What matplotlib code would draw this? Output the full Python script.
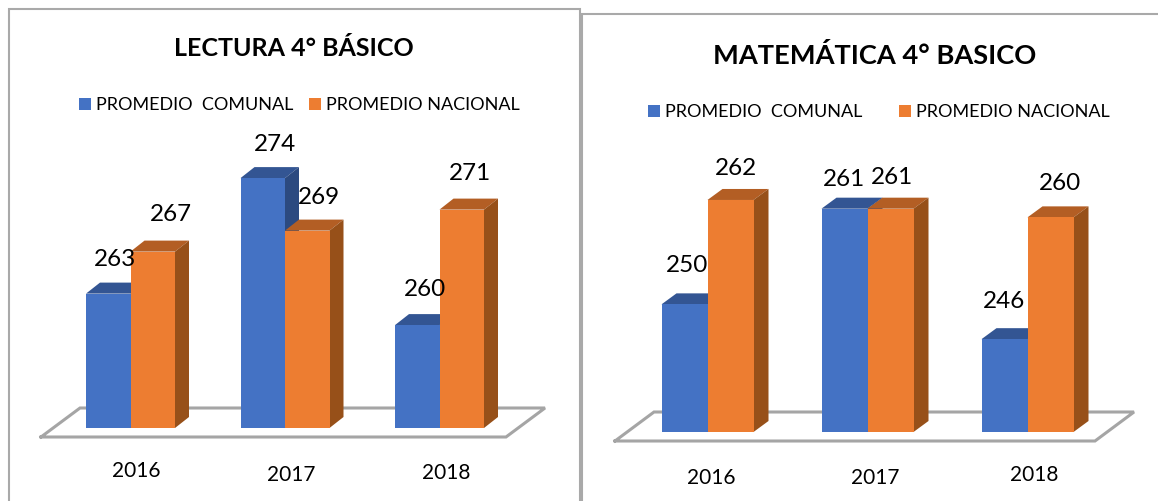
import matplotlib
matplotlib.use("Agg")
import matplotlib.pyplot as plt
from matplotlib.patches import Rectangle
from matplotlib.transforms import ScaledTranslation

plt.rcParams["font.family"] = ["Lato", "DejaVu Sans"]

years = ["2016", "2017", "2018"]
series_names = ["PROMEDIO  COMUNAL", "PROMEDIO NACIONAL"]

lectura_comunal = [263, 274, 260]
lectura_nacional = [267, 269, 271]
matematica_comunal = [250, 261, 246]
matematica_nacional = [262, 261, 260]

# front, top and side colours of the fake 3D bars
BLUE = ("#4472C4", "#335593", "#2C4A80")
ORANGE = ("#ED7D31", "#B35E24", "#975019")
FLOOR_COLOR = "#A5A5A5"
FRAME_COLOR = "#A9A9A9"

W, H = 1158, 501


def draw_bar(ax, x, value, ymin, width, dx, dy, colors):
    front, top, side = colors
    left, right = x - width / 2, x + width / 2
    ax.fill([left, left + dx, right + dx, right], [value, value + dy, value + dy, value],
            color=top, lw=0)
    ax.fill([right, right + dx, right + dx, right],
            [ymin, ymin + dy, value + dy, value], color=side, lw=0)
    return ax.bar(x, value - ymin, width, bottom=ymin, color=front, lw=0)


def draw_panel(frame, comunal, nacional, title, cfg):
    x0, y0, x1, y1 = frame
    ax = fig.add_axes([x0 / W, 1 - y1 / H, (x1 - x0) / W, (y1 - y0) / H])
    ax.patch.set_alpha(0)

    # pixel geometry turned into data units, so bars still go through the scales
    c0, spacing, px_per_unit = cfg["first_center"], cfg["spacing"], cfg["px_per_unit"]
    ymin = cfg["ymin"]
    base = cfg["baseline"]
    ax.set_xlim((x0 - c0) / spacing, (x1 - c0) / spacing)
    ax.set_ylim(ymin - (y1 - base) / px_per_unit, ymin + (base - y0) / px_per_unit)

    width = cfg["bar_px"] / spacing
    dx = cfg["depth_px"][0] / spacing
    dy = cfg["depth_px"][1] / px_per_unit

    # floor goes behind the bars
    fl, fr = cfg["floor_x"]
    fdx, fdy = cfg["floor_depth"]
    floor_y = ymin - cfg["floor_drop"] / px_per_unit
    floor_xs = [(p - c0) / spacing for p in (fl, fl + fdx, fr + fdx, fr, fl)]
    floor_ys = [floor_y, floor_y + fdy / px_per_unit, floor_y + fdy / px_per_unit, floor_y, floor_y]
    ax.plot(floor_xs, floor_ys, color=FLOOR_COLOR, lw=2.2, solid_joinstyle="miter", zorder=0)

    handles = [None, None]
    for i in range(len(years)):
        handles[0] = draw_bar(ax, i - width / 2, comunal[i], ymin, width, dx, dy, BLUE)
        handles[1] = draw_bar(ax, i + width / 2, nacional[i], ymin, width, dx, dy, ORANGE)

    # value labels sit by hand next to the bars in the original
    for i in range(len(years)):
        for j, (values, sign) in enumerate(((comunal, -1), (nacional, 1))):
            off = cfg["label_offsets"][j][i]
            ax.annotate(str(values[i]), (i + sign * width / 2, values[i]), xytext=off,
                        textcoords="offset pixels", ha="center", va="center",
                        fontsize=17.5, color="black")

    ax.set_xticks(range(len(years)), years)
    ax.set_yticks([])
    ax.tick_params(axis="x", length=0, labelsize=15, pad=0)
    for lab, (ox, oy) in zip(ax.get_xticklabels(), cfg["tick_offsets"]):
        lab.set_va("center")
        lab.set_transform(lab.get_transform() + ScaledTranslation(ox / 100, oy / 100, fig.dpi_scale_trans))
    for s in ax.spines.values():
        s.set_visible(False)

    tx, ty = cfg["title_pos"]
    ax.set_title(title, x=(tx - x0) / (x1 - x0), y=1 - (ty - y0) / (y1 - y0), va="center", pad=0,
                 fontsize=cfg["title_size"], fontweight="bold", color="black")

    ax.legend(handles, series_names, loc="upper left",
              bbox_to_anchor=(cfg["legend_pos"][0] / W, 1 - cfg["legend_pos"][1] / H),
              bbox_transform=fig.transFigure, ncols=2, frameon=False, fontsize=13,
              borderpad=0, borderaxespad=0, handlelength=0.66, handleheight=0.66,
              handletextpad=0.28, columnspacing=cfg["legend_gap"])


fig = plt.figure(figsize=(W / 100, H / 100), dpi=100, facecolor="white")

fig.add_artist(Rectangle((8.5 / W, -0.01), 571 / W, 1.01 - 9.5 / H, transform=fig.transFigure,
                         fill=False, ec=FRAME_COLOR, lw=1.5))
fig.add_artist(Rectangle((581.5 / W, -0.01), 600 / W, 1.01 - 13.5 / H, transform=fig.transFigure,
                         fill=False, ec=FRAME_COLOR, lw=1.5))

draw_panel((9, 10, 579, 501), lectura_comunal, lectura_nacional, "LECTURA 4° BÁSICO", {
    "first_center": 130.5, "spacing": 154.5, "px_per_unit": 10.5, "ymin": 250.2, "baseline": 428,
    "bar_px": 44.5, "depth_px": (14, 11),
    "floor_x": (41, 506), "floor_depth": (39, 29), "floor_drop": 9,
    "label_offsets": [[(7, 34), (12, 34), (8, 36)], [(18, 37), (12, 33), (8, 36)]],
    "tick_offsets": [(6, 30), (6, 26), (7, 28)],
    "title_pos": (294, 48), "title_size": 18,
    "legend_pos": (79, 97), "legend_gap": 0.89,
})

draw_panel((582, 14, 1158, 501), matematica_comunal, matematica_nacional, "MATEMÁTICA 4° BASICO", {
    "first_center": 707.5, "spacing": 160, "px_per_unit": 8.7, "ymin": 235.33, "baseline": 432,
    "bar_px": 46, "depth_px": (15, 11),
    "floor_x": (615, 1095), "floor_depth": (39, 29), "floor_drop": 9,
    "label_offsets": [[(3, 39), (0, 29), (0, 38)], [(5, 31), (2, 31), (9, 34)]],
    "tick_offsets": [(4, 23), (8, 23), (7, 26)],
    "title_pos": (875, 55), "title_size": 19.6,
    "legend_pos": (648, 104), "legend_gap": 2.05,
})

fig.savefig("out.png", dpi=100)
